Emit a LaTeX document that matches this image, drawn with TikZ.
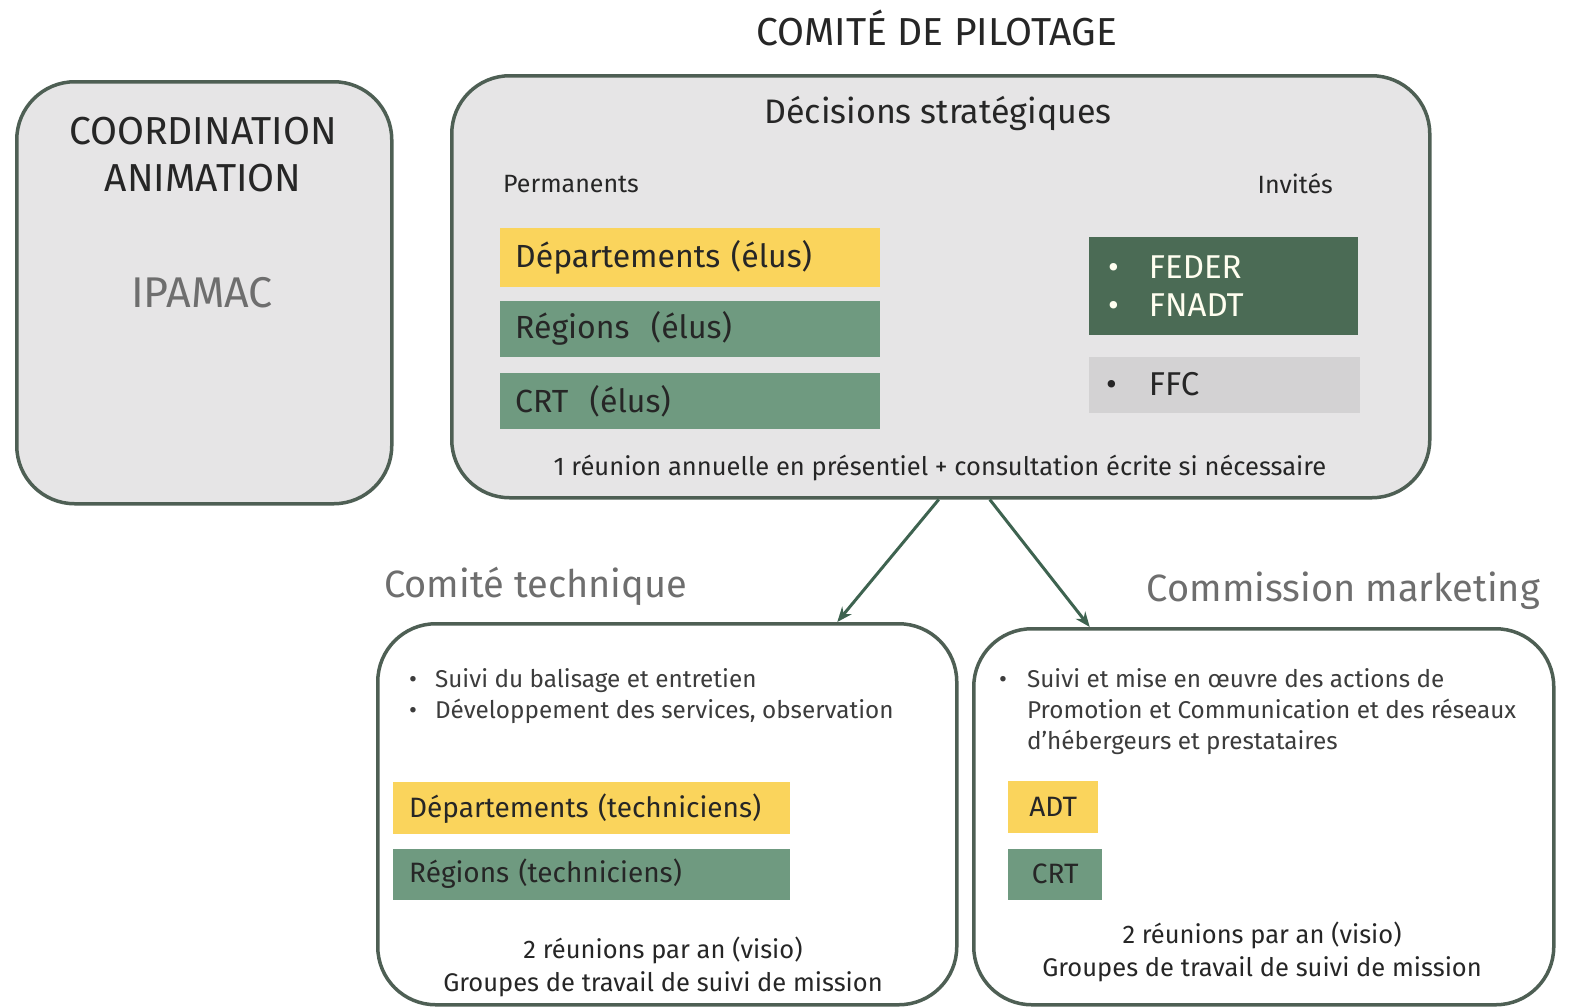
\documentclass[tikz,border=0pt]{standalone}
\usepackage{fontspec}
\setmainfont{Fira Sans}
\usetikzlibrary{arrows.meta,positioning}
\definecolor{cadre}{HTML}{4E5F54}
\definecolor{fondgris}{HTML}{E6E5E6}
\definecolor{jaune}{HTML}{FAD45C}
\definecolor{vert}{HTML}{6F9A80}
\definecolor{vertfonce}{HTML}{4B6B55}
\definecolor{grisclair}{HTML}{D3D2D3}
\definecolor{fleche}{HTML}{3E6350}
\definecolor{texte}{HTML}{262626}
\definecolor{textegris}{HTML}{6E6E6E}
\newcommand\fsz[2]{\fontsize{#1}{#2}\selectfont}

\begin{document}
\begin{tikzpicture}[x=1pt, y=-1pt,
    node distance=13pt,
    panel/.style={draw=cadre, line width=3.5pt, rounded corners=58pt, anchor=north west},
    label/.style={text=texte, inner sep=0pt},
    bar/.style={anchor=north west, inner xsep=15pt, inner ysep=0pt, align=left, text=texte, font=\fsz{32}{36}},
    yellowbar/.style={bar, fill=jaune},
    greenbar/.style={bar, fill=vert},
    arrow/.style={-{Stealth[length=15pt, width=12pt]}, line width=3pt, draw=fleche}
  ]
  \useasboundingbox (0,0) rectangle (1570,1007);

  % Main panels
  \node[panel, fill=fondgris, minimum width=375pt, minimum height=422pt] (coord) at (15,80) {};
  \node[panel, fill=fondgris, minimum width=978pt, minimum height=422pt] (pilot) at (450,74) {};
  \node[panel, fill=white, minimum width=579pt, minimum height=381pt] (tech) at (376,622) {};
  \node[panel, fill=white, minimum width=580pt, minimum height=376pt] (market) at (972,627) {};

  % Titles
  \node[label, font=\fsz{39}{44}] (title) at (937,28) {COMITÉ DE PILOTAGE};
  \node[label, font=\fsz{39}{47}, align=center] (coordtitle) at (203,155) {COORDINATION\\ANIMATION};
  \node[label, font=\fsz{43}{46}\addfontfeatures{FakeBold=-0.3}, text=textegris] (ipamac) at (202,293) {IPAMAC};
  \node[label, font=\fsz{38}{42}, text=textegris, anchor=west] (techtitle) at (384,586) {Comité technique};
  \node[label, font=\fsz{38}{42}, text=textegris, anchor=east] (markettitle) at (1540,591) {Commission marketing};

  % Pilotage
  \node[label, font=\fsz{34}{38}] (decisions) at (938,114) {Décisions stratégiques};
  \node[label, font=\fsz{25}{28}, anchor=west] (permanents) at (503,184) {Permanents};
  \node[label, font=\fsz{25}{28}, anchor=east] (invites) at (1333,184) {Invités};
  \node[yellowbar, text width=350pt, minimum height=59pt] (depelus) at (500,228) {Départements (élus)};
  \node[greenbar, text width=350pt, minimum height=56pt, below=of depelus] (regelus) {Régions~~(élus)};
  \node[greenbar, text width=350pt, minimum height=56pt, below=16pt of regelus] (crtelus) {CRT~~(élus)};
  \node[bar, fill=vertfonce, text=white!94!yellow, text width=247pt, minimum height=98pt, inner xsep=11pt, font=\fsz{33}{36}] (feder) at (1089,237)
    {\hspace{8pt}\textbullet\hspace{30pt}FEDER\\[2pt]\hspace{8pt}\textbullet\hspace{30pt}FNADT};
  \node[bar, fill=grisclair, text width=249pt, minimum height=56pt, inner xsep=11pt, font=\fsz{33}{36}, below=21pt of feder.south west, anchor=north west] (ffc)
    {\hspace{6pt}\textbullet\hspace{32pt}FFC};
  \node[label, font=\fsz{25.5}{28}] (reunion) at (940,468) {1 réunion annuelle en présentiel + consultation écrite si nécessaire};

  % Comite technique
  \node[label, font=\fsz{24.3}{31}, anchor=north west, align=left, text=texte!90] (techlist) at (409,668)
    {\textbullet\hspace{18pt}Suivi du balisage et entretien\\\textbullet\hspace{18pt}Développement des services, observation};
  \node[yellowbar, text width=365pt, minimum height=52pt, inner xsep=16pt, font=\fsz{28}{32}] (deptech) at (393,782) {Départements (techniciens)};
  \node[greenbar, text width=365pt, minimum height=51pt, inner xsep=16pt, font=\fsz{28}{32}, below=14pt of deptech] (regtech) {Régions (techniciens)};
  \node[label, font=\fsz{25.5}{33}, align=center] (techmeet) at (663,967) {2 réunions par an (visio)\\Groupes de travail de suivi de mission};

  % Commission marketing
  \node[label, font=\fsz{24.3}{31}, anchor=north west, align=left, text=texte!90] (marketlist) at (999,666)
    {\begin{tabular}{@{}l@{\hspace{20pt}}l@{}}\textbullet & Suivi et mise en œuvre des actions de\\ & Promotion et Communication et des réseaux\\ & d'hébergeurs et prestataires\end{tabular}};
  \node[yellowbar, minimum width=90pt, minimum height=52pt, font=\fsz{28}{32}] (adt) at (1008,781) {ADT};
  \node[greenbar, minimum width=94pt, minimum height=51pt, font=\fsz{28}{32}, below=15pt of adt.south west, anchor=north west] (crtmarket) {CRT};
  \node[label, font=\fsz{25.5}{33}, align=center] (marketmeet) at (1262,952) {2 réunions par an (visio)\\Groupes de travail de suivi de mission};

  % Connections
  \draw[arrow] ([xshift=-2pt]pilot.south) -- ([xshift=170pt]tech.north);
  \draw[arrow] ([xshift=49pt]pilot.south) -- ([xshift=-174pt]market.north);

\end{tikzpicture}
\end{document}
